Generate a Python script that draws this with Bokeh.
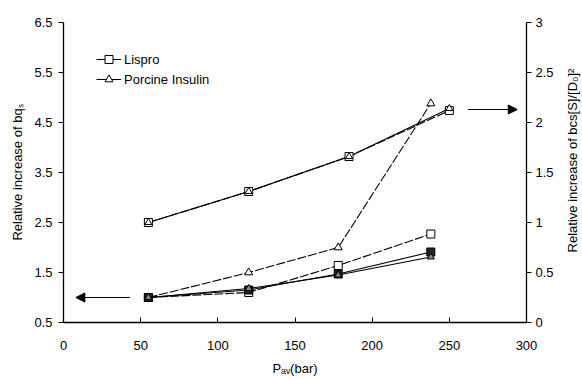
import math
from bokeh.plotting import figure
from bokeh.layouts import row
from bokeh.core.properties import value
from bokeh.models import (Range1d, LinearAxis, FixedTicker, Arrow, NormalHead,
                          Legend, LegendItem, CustomJSTickFormatter)
from bokeh.embed import file_html
from bokeh.resources import INLINE

# ---- data ----
x_ticks = [0, 50, 100, 150, 200, 250, 300]
left_ticks = [0.5, 1.5, 2.5, 3.5, 4.5, 5.5, 6.5]
right_ticks = [0, 0.5, 1, 1.5, 2, 2.5, 3]

# upper curves, right axis (relative increase of bcs[S]/[D0]^2)
x_upper = [55, 120, 185, 250]
lispro_upper = [1.0, 1.31, 1.66, 2.12]
porcine_upper = [1.0, 1.31, 1.66, 2.14]

# lower curves, left axis (relative increase of bq_s)
x_lower = [55, 120, 178, 238]
lispro_lower = [1.0, 1.10, 1.64, 2.27]
porcine_lower = [1.0, 1.50, 2.00, 4.88]
lispro_lower2 = [1.0, 1.15, 1.47, 1.91]
porcine_lower2 = [1.0, 1.18, 1.45, 1.81]

right_title = "Relative increase of bcs[S]/[D\u2080]\u00b2"

FONT = "Liberation Sans"

p = figure(width=562, height=380, x_range=Range1d(0, 300), y_range=Range1d(0.5, 6.5),
           output_backend="svg", toolbar_location=None,
           min_border_left=63, min_border_right=36, min_border_top=22, min_border_bottom=58)
p.outline_line_color = None
p.xgrid.visible = False
p.ygrid.visible = False
p.background_fill_color = "white"
p.border_fill_color = "white"

p.extra_y_ranges = {"right": Range1d(0, 3)}

fmt = CustomJSTickFormatter(code="return String(tick);")

xa = p.xaxis[0]
xa.ticker = FixedTicker(ticks=x_ticks)
xa.major_tick_in = 5
xa.major_tick_out = 0
xa.minor_tick_line_color = None
xa.major_label_standoff = 18
xa.axis_label = "P\u2090\u1d65(bar)"
xa.axis_label_standoff = 8

ya = p.yaxis[0]
ya.ticker = FixedTicker(ticks=left_ticks)
ya.formatter = fmt
ya.major_tick_in = 0
ya.major_tick_out = 5
ya.minor_tick_line_color = None
ya.major_label_standoff = 6
ya.axis_label = "Relative increase of bq\u209b"
ya.axis_label_standoff = 6

ra = LinearAxis(y_range_name="right", ticker=FixedTicker(ticks=right_ticks), formatter=fmt)
ra.major_tick_in = 0
ra.major_tick_out = 5
ra.minor_tick_line_color = None
ra.major_label_standoff = 4
p.add_layout(ra, "right")

for ax in (xa, ya, ra):
    ax.axis_line_color = "black"
    ax.axis_line_width = 1.3
    ax.major_tick_line_color = "black"
    ax.major_label_text_font = FONT
    ax.major_label_text_font_size = "13px"
    ax.major_label_text_color = "black"
    ax.axis_label_text_font = FONT
    ax.axis_label_text_font_size = "13px"
    ax.axis_label_text_font_style = "normal"
    ax.axis_label_text_color = "black"

lw = 1.1
# lower series (left axis)
p.line(x_lower, lispro_lower, line_color="black", line_width=lw, line_dash="9 2")
p.scatter(x_lower, lispro_lower, marker="square", size=8, fill_color="white", line_color="black")
p.line(x_lower, porcine_lower, line_color="black", line_width=lw, line_dash="9 2")
p.scatter(x_lower, porcine_lower, marker="triangle", size=8, fill_color="white", line_color="black")
p.line(x_lower, lispro_lower2, line_color="black", line_width=lw)
p.scatter(x_lower, lispro_lower2, marker="square", size=8, fill_color="#222222", line_color="black")
p.line(x_lower, porcine_lower2, line_color="black", line_width=lw)
p.scatter(x_lower, porcine_lower2, marker="triangle", size=7, fill_color="#888888", line_color="black")

# upper series (right axis)
p.line(x_upper, lispro_upper, line_color="black", line_width=lw, line_dash="9 2", y_range_name="right")
p.line(x_upper, porcine_upper, line_color="black", line_width=lw, y_range_name="right")
p.scatter(x_upper, lispro_upper, marker="square", size=8, fill_color="white", line_color="black",
          y_range_name="right")
p.scatter(x_upper, porcine_upper, marker="triangle", size=7, fill_color="white", line_color="black",
          y_range_name="right")

# arrows
p.add_layout(Arrow(end=NormalHead(size=9, fill_color="black", line_color="black"),
                   x_start=43, y_start=1.0, x_end=8, y_end=1.0,
                   line_color="black", line_width=1))
p.add_layout(Arrow(end=NormalHead(size=9, fill_color="black", line_color="black"),
                   x_start=262, y_start=4.76, x_end=294, y_end=4.76,
                   line_color="black", line_width=1))

# legend (proxy glyphs placed outside the visible range)
off_x = [-100, -90]
off_y = [-100, -100]
leg_l = p.line(off_x, off_y, line_color="black", line_width=1)
leg_ls = p.scatter(off_x, off_y, marker="square", size=6, fill_color="white", line_color="black")
leg_p = p.line(off_x, off_y, line_color="black", line_width=1)
leg_ps = p.scatter(off_x, off_y, marker="triangle", size=6, fill_color="white", line_color="black")
legend = Legend(items=[LegendItem(label="Lispro", renderers=[leg_l, leg_ls]),
                       LegendItem(label="Porcine Insulin", renderers=[leg_p, leg_ps])],
                location=(33, 233), orientation="vertical",
                border_line_color=None, background_fill_alpha=0,
                padding=0, margin=0, spacing=0, glyph_width=25, glyph_height=20,
                label_height=20, label_standoff=3,
                label_text_font=FONT, label_text_font_size="13px", label_text_color="black")
p.add_layout(legend, "center")

# narrow strip carrying the right-hand axis title (reads bottom to top)
p2 = figure(width=20, height=380, x_range=Range1d(0, 1), y_range=Range1d(0, 1),
            output_backend="svg", toolbar_location=None, min_border=0)
p2.outline_line_color = None
p2.axis.visible = False
p2.xgrid.visible = False
p2.ygrid.visible = False
p2.background_fill_color = "white"
p2.border_fill_color = "white"
p2.text(x=[0.5], y=[0.54], text=[right_title], angle=math.pi / 2,
        text_align="center", text_baseline="middle",
        text_font=value(FONT), text_font_size=value("13px"), text_color="black")

layout = row(p, p2, spacing=0)
open("out.html", "w").write(file_html(layout, INLINE))
